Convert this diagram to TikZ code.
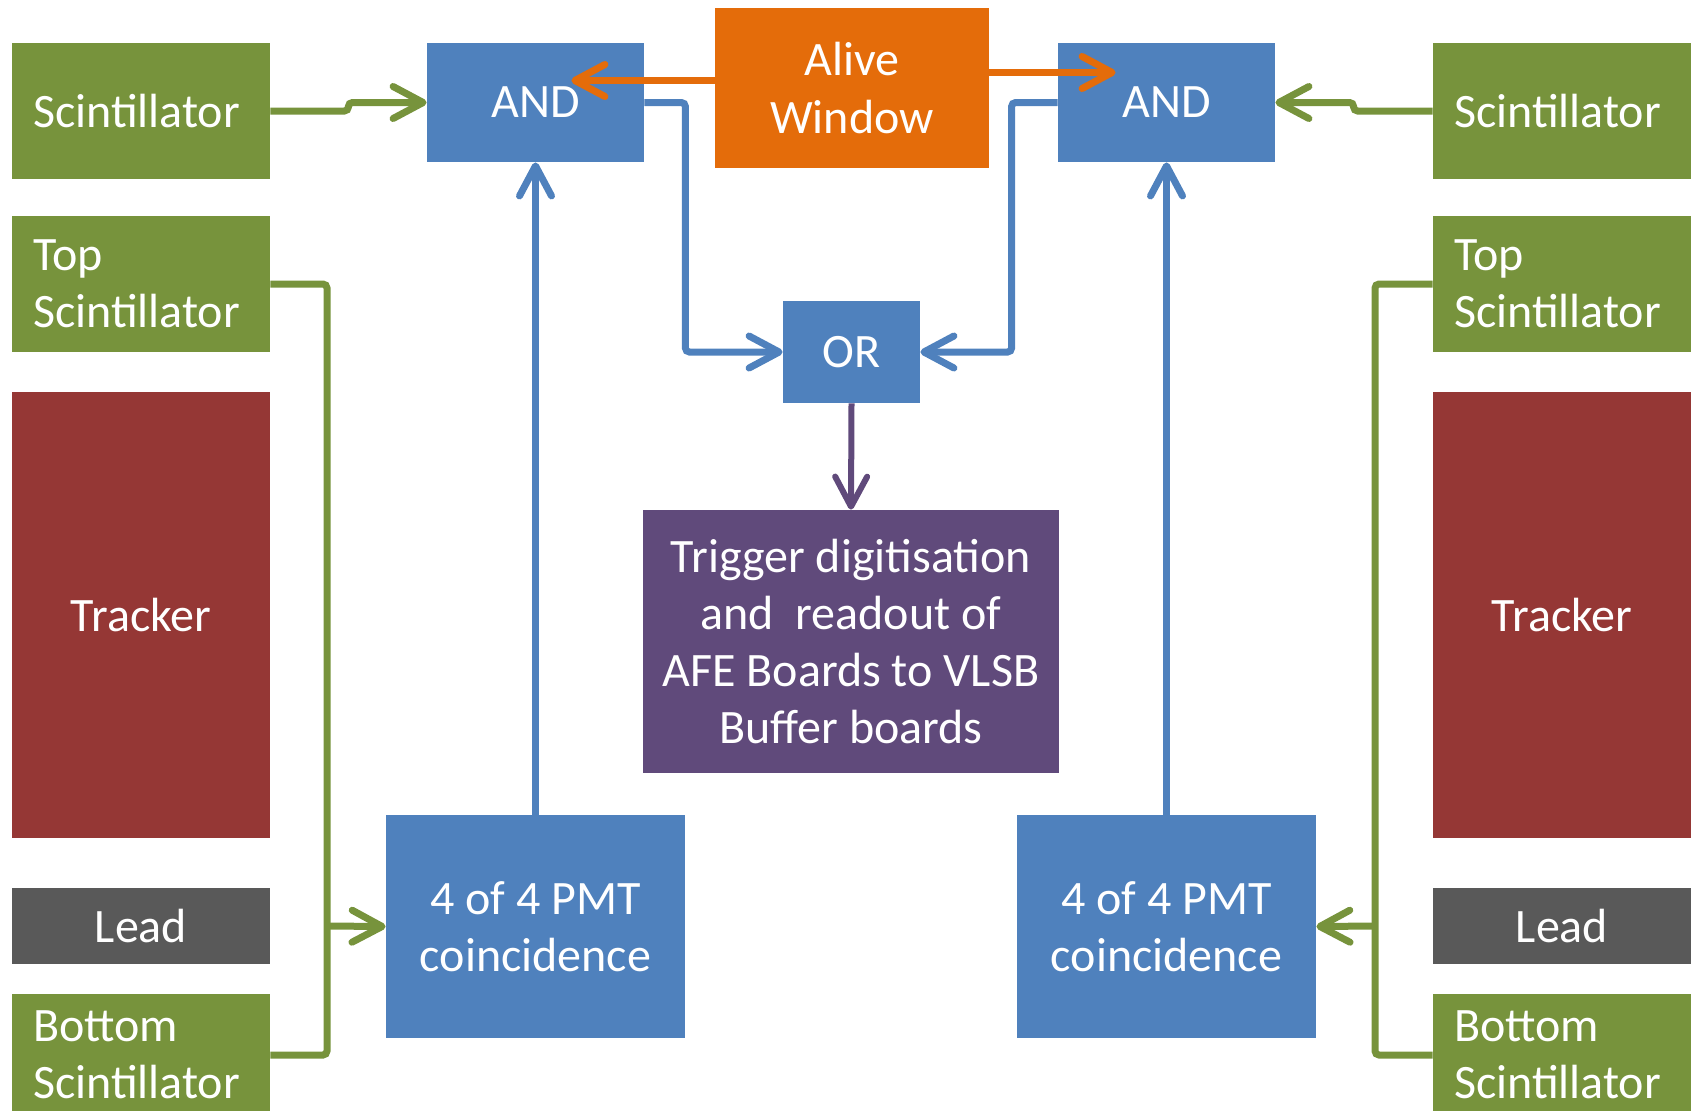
\documentclass[tikz,border=0pt]{standalone}
\usepackage{fontspec}
\setmainfont{Carlito}
\usetikzlibrary{arrows.meta}
\definecolor{scintgreen}{HTML}{77933C}
\definecolor{logicblue}{HTML}{4F81BD}
\definecolor{aliveorange}{HTML}{E46C0A}
\definecolor{trackred}{HTML}{953735}
\definecolor{leadgrey}{HTML}{595959}
\definecolor{trigpurple}{HTML}{604A7B}
\begin{document}
\begin{tikzpicture}[x=0.5pt,y=-0.5pt,
    every node/.style={text=white,inner sep=0pt,font=\fontsize{24}{28.6}\selectfont},
    scint/.style={fill=scintgreen,text width=108pt,inner xsep=10.5pt,align=left,minimum height=68pt},
    absorber/.style={fill=#1,minimum width=129pt,align=center},
    logic/.style={fill=logicblue,align=center},
    wire/.style={line width=3.5pt,rounded corners=2pt},
    sig/.style={wire,-{Straight Barb[length=15pt,width=16pt,round]}}]
    \useasboundingbox (0,0) rectangle (1696,1110);
                % left stack
                \node[scint] (scL) at (141,111) {Scintillator};
                \node[scint] (topL) at (141,284) {Top\\Scintillator};
                \node[absorber=trackred,minimum height=223pt] (trkL) at (141,615) {Tracker};
                \node[absorber=leadgrey,minimum height=38pt] (leadL) at (141,926) {Lead};
                \node[scint,minimum height=61pt] (botL) at (141,1055) {Bottom\\Scintillator};
                % right stack
                \node[scint] (scR) at (1562,111) {Scintillator};
                \node[scint] (topR) at (1562,284) {Top\\Scintillator};
                \node[absorber=trackred,minimum height=223pt] (trkR) at (1562,615) {Tracker};
                \node[absorber=leadgrey,minimum height=38pt] (leadR) at (1562,926) {Lead};
                \node[scint,minimum height=61pt] (botR) at (1562,1055) {Bottom\\Scintillator};
                % logic
                \node[logic,minimum width=108.5pt,minimum height=59.5pt] (andL) at (535.5,102.5) {AND};
                \node[logic,minimum width=108.5pt,minimum height=59.5pt] (andR) at (1166.5,102.5) {AND};
                \node[fill=aliveorange,align=center,minimum width=137pt,minimum height=80pt] (alive) at (852,88) {Alive\\Window};
                \node[logic,minimum width=68.5pt,minimum height=51pt] (or) at (851.5,352) {OR};
                \node[fill=trigpurple,align=center,minimum width=208pt,minimum height=131.5pt] (trig) at (851,641.5) {Trigger digitisation\\and\ \ readout of\\AFE Boards to VLSB\\Buffer boards};
                \node[logic,minimum width=149.5pt,minimum height=111.5pt] (pmtL) at (535.5,926.5) {4 of 4 PMT\\coincidence};
                \node[logic,minimum width=149.5pt,minimum height=111.5pt] (pmtR) at (1166.5,926.5) {4 of 4 PMT\\coincidence};
                % wires
                \coordinate (jL) at (327,926);
                \coordinate (jR) at (1375,926);
                \draw[wire,scintgreen] (topL.east) -| (jL) |- (botL.east);
                \draw[wire,scintgreen] (topR.west) -| (jR) |- (botR.west);
                \draw[sig,scintgreen] (jL) -- (pmtL.west);
                \draw[sig,scintgreen] (jR) -- (pmtR.east);
                \draw[sig,scintgreen] (scL.east) -- ++(78,0) |- (andL.west);
                \draw[sig,scintgreen] (scR.west) -- ++(-79,0) |- (andR.east);
                \draw[sig,logicblue] (pmtL.north) -- (andL.south);
                \draw[sig,logicblue] (pmtR.north) -- (andR.south);
                \draw[sig,logicblue] (andL.east) -- ++(41,0) |- (or.west);
                \draw[sig,logicblue] (andR.west) -- ++(-46,0) |- (or.east);
                \draw[sig,trigpurple,line width=3pt] (or.south) -- (trig.north);
                \coordinate (aliveL) at ([yshift=3.75pt]alive.west);
                \coordinate (aliveR) at ([yshift=7.75pt]alive.east);
                \draw[sig,aliveorange,shorten >=-36.5pt] (aliveL) -- (aliveL -| andL.east);
                \draw[sig,aliveorange,shorten >=-29pt] (aliveR) -- (aliveR -| andR.west);
\end{tikzpicture}
\end{document}
